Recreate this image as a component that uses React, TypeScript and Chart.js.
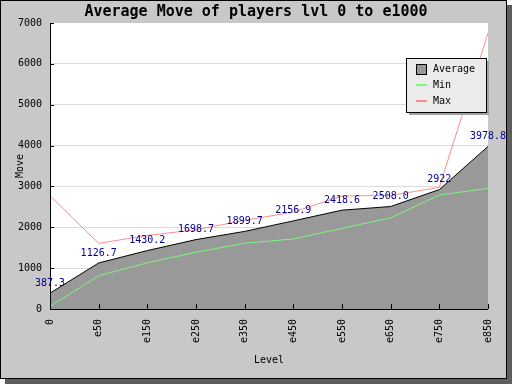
import React, { useEffect, useRef } from "react";
import { Chart, registerables } from "chart.js";

Chart.register(...registerables);

const levels = ["0", "e50", "e150", "e250", "e350", "e450", "e550", "e650", "e750", "e850"];
const averageMoves = [387.3, 1126.7, 1430.2, 1698.7, 1899.7, 2156.9, 2418.6, 2508.0, 2922, 3978.8];
const averageLabels = ["387.3", "1126.7", "1430.2", "1698.7", "1899.7", "2156.9", "2418.6", "2508.0", "2922", "3978.8"];
const minMoves = [60, 815, 1130, 1390, 1610, 1713, 1974, 2230, 2790, 2954];
const maxMoves = [2773, 1607, 1800, 1940, 2170, 2370, 2766, 2780, 2978, 6750];
const yMax = 7000;
const yStep = 1000;

const titleText = "Average Move of players lvl 0 to e1000";
const xTitle = "Level";
const yTitle = "Move";
const legendItems = ["Average", "Min", "Max"];

const MONO = "'DejaVu Sans Mono', 'Liberation Mono', monospace";
const AVG_FILL = "#999999";
const MIN_COLOR = "#7ef47e";
const MAX_COLOR = "#ff8c8c";
const LABEL_COLOR = "#000090";

const decoPlugin = {
  id: "deco",
  beforeDraw(chart: any) {
    const ctx = chart.ctx;
    const a = chart.chartArea;
    ctx.save();
    ctx.fillStyle = "#5e5e5e";
    ctx.fillRect(5, 5, 507, 379);
    ctx.fillStyle = "#c8c8c8";
    ctx.fillRect(0, 0, 507, 379);
    ctx.strokeStyle = "#000";
    ctx.lineWidth = 1;
    ctx.strokeRect(0.5, 0.5, 506, 378);
    ctx.fillStyle = "#ffffff";
    ctx.fillRect(a.left, a.top, a.right - a.left, a.bottom - a.top);
    ctx.fillStyle = "#000";
    ctx.font = `bold 15px ${MONO}`;
    ctx.textAlign = "center";
    ctx.textBaseline = "middle";
    ctx.fillText(titleText, 256, 12);
    ctx.restore();
  },
  afterDatasetsDraw(chart: any) {
    const ctx = chart.ctx;
    const a = chart.chartArea;
    const xs = chart.scales.x;
    const ys = chart.scales.y;
    ctx.save();
    ctx.strokeStyle = "#000";
    ctx.lineWidth = 1;
    ctx.beginPath();
    ctx.moveTo(Math.round(a.left) + 0.5, a.top);
    ctx.lineTo(Math.round(a.left) + 0.5, Math.round(a.bottom) + 0.5);
    ctx.lineTo(a.right, Math.round(a.bottom) + 0.5);
    ys.ticks.forEach((t: any) => {
      const y = Math.round(ys.getPixelForValue(t.value)) + 0.5;
      ctx.moveTo(a.left, y);
      ctx.lineTo(a.left + 4, y);
    });
    levels.forEach((_, i) => {
      const x = Math.round(xs.getPixelForValue(i)) + 0.5;
      ctx.moveTo(x, a.bottom);
      ctx.lineTo(x, a.bottom - 5);
    });
    ctx.stroke();
    const meta = chart.getDatasetMeta(0);
    ctx.fillStyle = LABEL_COLOR;
    ctx.font = `10px ${MONO}`;
    ctx.textAlign = "center";
    ctx.textBaseline = "middle";
    meta.data.forEach((pt: any, i: number) => {
      ctx.fillText(averageLabels[i], pt.x, pt.y - 10);
    });
    ctx.restore();
  },
  afterDraw(chart: any) {
    const ctx = chart.ctx;
    const a = chart.chartArea;
    ctx.save();
    ctx.fillStyle = "#000";
    ctx.font = `10px ${MONO}`;
    ctx.textAlign = "center";
    ctx.textBaseline = "middle";
    ctx.fillText(xTitle, (a.left + a.right) / 2, 360);
    ctx.save();
    ctx.translate(20, (a.top + a.bottom) / 2);
    ctx.rotate(-Math.PI / 2);
    ctx.fillText(yTitle, 0, 0);
    ctx.restore();
    const lx = 406, ly = 58, lw = 80, lh = 54;
    ctx.fillStyle = "#a0a0a0";
    ctx.fillRect(lx + 3, ly + 3, lw, lh);
    ctx.fillStyle = "#ebebeb";
    ctx.fillRect(lx, ly, lw, lh);
    ctx.strokeStyle = "#000";
    ctx.lineWidth = 1;
    ctx.strokeRect(lx + 0.5, ly + 0.5, lw, lh);
    const rows = [69, 85, 101];
    ctx.fillStyle = AVG_FILL;
    ctx.fillRect(416, 64, 11, 11);
    ctx.strokeRect(416.5, 64.5, 10, 10);
    ctx.lineWidth = 2;
    ctx.strokeStyle = MIN_COLOR;
    ctx.beginPath();
    ctx.moveTo(416, rows[1]);
    ctx.lineTo(427, rows[1]);
    ctx.stroke();
    ctx.strokeStyle = MAX_COLOR;
    ctx.beginPath();
    ctx.moveTo(416, rows[2]);
    ctx.lineTo(427, rows[2]);
    ctx.stroke();
    ctx.fillStyle = "#000";
    ctx.textAlign = "left";
    legendItems.forEach((t, i) => ctx.fillText(t, 433, rows[i]));
    ctx.restore();
  },
};

export default function App() {
  const ref = useRef<HTMLCanvasElement | null>(null);
  useEffect(() => {
    document.body.style.margin = "0";
    const canvas = ref.current;
    if (!canvas) return;
    const chart = new Chart(canvas, {
      type: "line",
      data: {
        labels: levels,
        datasets: [
          {
            label: "Average",
            data: averageMoves,
            borderColor: "#000000",
            borderWidth: 1,
            backgroundColor: AVG_FILL,
            fill: "origin",
            pointRadius: 0,
            tension: 0,
            order: 10,
          },
          {
            label: "Min",
            data: minMoves,
            borderColor: MIN_COLOR,
            borderWidth: 1,
            fill: false,
            pointRadius: 0,
            tension: 0,
            order: 1,
          },
          {
            label: "Max",
            data: maxMoves,
            borderColor: MAX_COLOR,
            borderWidth: 1,
            fill: false,
            pointRadius: 0,
            tension: 0,
            order: 1,
          },
        ],
      },
      options: {
        animation: false,
        responsive: false,
        devicePixelRatio: 1,
        layout: { padding: { top: 23, right: 24, left: 0, bottom: 0 } },
        plugins: {
          legend: { display: false },
          title: { display: false },
          tooltip: { enabled: false },
        },
        scales: {
          x: {
            type: "category",
            offset: false,
            grid: { display: false, drawTicks: false },
            border: { display: false },
            ticks: {
              autoSkip: false,
              minRotation: 90,
              maxRotation: 90,
              padding: 10,
              color: "#000",
              font: { family: MONO, size: 10 },
            },
            afterFit: (s: any) => {
              s.height = 75;
              s.paddingLeft = 0;
              s.paddingRight = 0;
            },
          },
          y: {
            min: 0,
            max: yMax,
            ticks: {
              stepSize: yStep,
              padding: 8,
              color: "#000",
              font: { family: MONO, size: 10 },
              callback: (v: any) => String(v),
            },
            grid: {
              drawTicks: false,
              color: (c: any) =>
                c.tick && (c.tick.value === yMax || c.tick.value === 0) ? "rgba(0,0,0,0)" : "#dcdcdc",
            },
            border: { display: false },
            afterFit: (s: any) => {
              s.width = 50;
              s.paddingTop = 0;
              s.paddingBottom = 0;
            },
          },
        },
      },
      plugins: [decoPlugin],
    });
    return () => chart.destroy();
  }, []);
  return <canvas ref={ref} width={512} height={384} style={{ display: "block", width: 512, height: 384 }} />;
}
